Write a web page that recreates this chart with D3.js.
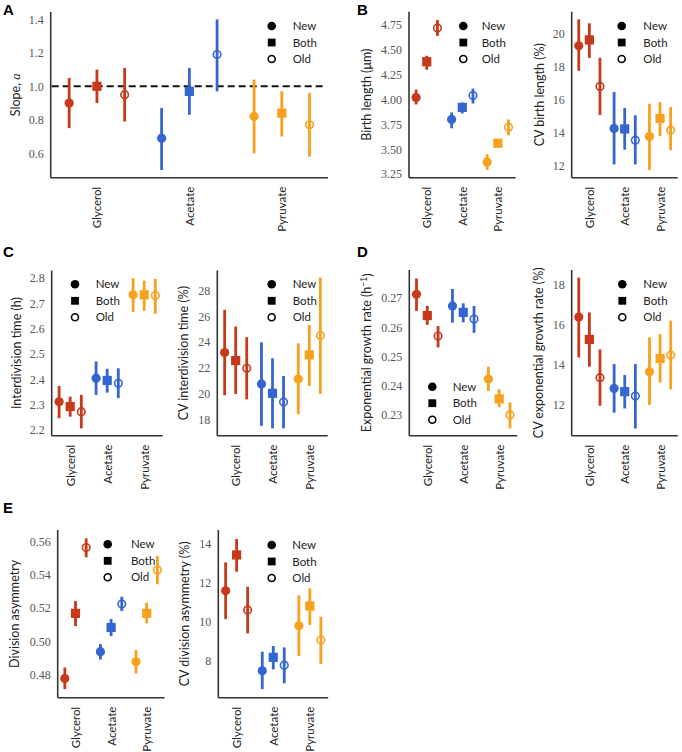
<!DOCTYPE html>
<html><head><meta charset="utf-8">
<script src="https://cdn.jsdelivr.net/npm/d3@7"></script>
<style>body{margin:0;background:#fff}svg{display:block}</style>
</head><body>
<script>
// ---------- DATA ----------
const categories = ["Glycerol", "Acetate", "Pyruvate"];
const groups = ["New", "Both", "Old"];
const colors = ["#c8391a", "#3366d0", "#f7a11e"];

// values [category][group], group order New, Both, Old
const slopeMean = [[0.90, 1.00, 0.95], [0.69, 0.97, 1.19], [0.82, 0.84, 0.77]];
const slopeLo   = [[0.75, 0.90, 0.79], [0.50, 0.83, 0.97], [0.60, 0.70, 0.58]];
const slopeHi   = [[1.05, 1.10, 1.11], [0.87, 1.11, 1.40], [1.04, 0.97, 0.96]];
const slopeTicks = [0.6, 0.8, 1.0, 1.2, 1.4];

const birthMean = [[4.02, 4.38, 4.72], [3.80, 3.92, 4.04], [3.37, 3.56, 3.72]];
const birthLo   = [[3.95, 4.30, 4.64], [3.71, 3.86, 3.96], [3.29, 3.535, 3.64]];
const birthHi   = [[4.10, 4.44, 4.80], [3.87, 3.97, 4.11], [3.45, 3.585, 3.80]];
const birthTicks = [3.25, 3.50, 3.75, 4.00, 4.25, 4.50, 4.75];

const cvBirthMean = [[19.25, 19.6, 16.8], [14.27, 14.24, 13.56], [13.78, 14.87, 14.16]];
const cvBirthLo   = [[17.74, 18.52, 15.08], [12.1, 12.99, 12.1], [11.76, 13.8, 12.96]];
const cvBirthHi   = [[20.84, 20.6, 18.52], [16.46, 15.5, 15.06], [15.76, 15.86, 15.56]];
const cvBirthTicks = [12, 14, 16, 18, 20];

const divTimeMean = [[2.312, 2.293, 2.273], [2.405, 2.396, 2.385], [2.734, 2.734, 2.731]];
const divTimeLo   = [[2.247, 2.253, 2.207], [2.339, 2.348, 2.326], [2.666, 2.671, 2.659]];
const divTimeHi   = [[2.374, 2.332, 2.339], [2.471, 2.442, 2.444], [2.800, 2.790, 2.797]];
const divTimeTicks = [2.2, 2.3, 2.4, 2.5, 2.6, 2.7, 2.8];

const cvDivTimeMean = [[23.18, 22.56, 21.96], [20.75, 20.02, 19.35], [21.13, 23.0, 24.5]];
const cvDivTimeLo   = [[19.87, 19.97, 19.55], [17.5, 17.3, 17.3], [18.39, 20.59, 19.97]];
const cvDivTimeHi   = [[26.5, 25.2, 24.37], [23.98, 22.74, 21.37], [23.9, 25.33, 29.0]];
const cvDivTimeTicks = [18, 20, 22, 24, 26, 28];

const growthMean = [[0.2713, 0.2640, 0.2570], [0.2673, 0.2651, 0.2628], [0.2423, 0.2355, 0.2300]];
const growthLo   = [[0.2656, 0.2608, 0.2531], [0.2616, 0.2617, 0.2581], [0.2382, 0.2326, 0.2254]];
const growthHi   = [[0.2767, 0.2673, 0.2604], [0.2731, 0.2682, 0.2673], [0.2465, 0.2388, 0.2343]];
const growthTicks = [0.23, 0.24, 0.25, 0.26, 0.27];

const cvGrowthMean = [[16.4, 15.28, 13.37], [12.83, 12.67, 12.45], [13.67, 14.33, 14.5]];
const cvGrowthLo   = [[14.38, 13.92, 11.97], [11.62, 11.83, 10.83], [12.0, 13.12, 12.78]];
const cvGrowthHi   = [[18.37, 16.63, 14.78], [14.05, 13.5, 14.05], [15.38, 15.55, 16.22]];
const cvGrowthTicks = [12, 14, 16, 18];

const asymMean = [[0.4776, 0.5168, 0.5564], [0.4937, 0.5083, 0.5224], [0.4876, 0.5168, 0.5429]];
const asymLo   = [[0.4712, 0.5091, 0.5506], [0.4890, 0.5031, 0.5182], [0.4806, 0.5108, 0.5343]];
const asymHi   = [[0.4842, 0.5242, 0.5620], [0.4983, 0.5134, 0.5268], [0.4947, 0.5232, 0.5514]];
const asymTicks = [0.48, 0.50, 0.52, 0.54, 0.56];

const cvAsymMean = [[11.6, 13.44, 10.62], [7.5, 8.19, 7.79], [9.81, 10.82, 9.08]];
const cvAsymLo   = [[10.15, 12.58, 9.42], [6.56, 7.57, 6.86], [8.26, 9.85, 7.85]];
const cvAsymHi   = [[13.06, 14.26, 11.81], [8.48, 8.77, 8.70], [11.37, 11.73, 10.27]];
const cvAsymTicks = [8, 10, 12, 14];

// ---------- LAYOUT ----------
const W = 682, H = 752;
const svg = d3.select("body").append("svg").attr("width", W).attr("height", H);

const panels = [
  {mean: slopeMean, lo: slopeLo, hi: slopeHi, ticks: slopeTicks, fmt: ".1f",
   x: [50.7, 328], y: [177.7, 12], dom: [0.454, 1.444], label: "slope", lx: 16,
   leg: [271.7, 292.7, 26], refLine: 1.0},
  {mean: birthMean, lo: birthLo, hi: birthHi, ticks: birthTicks, fmt: ".2f",
   x: [409, 515.6], y: [177.7, 11.7], dom: [3.213, 4.884], label: "Birth length (μm)", lx: 367,
   leg: [463.3, 481.7, 26]},
  {mean: cvBirthMean, lo: cvBirthLo, hi: cvBirthHi, ticks: cvBirthTicks, fmt: "d",
   x: [571.7, 677.7], y: [177.7, 11.7], dom: [11.3, 21.3], label: "CV birth length (%)", lx: 540,
   leg: [621.7, 643.3, 26]},
  {mean: divTimeMean, lo: divTimeLo, hi: divTimeHi, ticks: divTimeTicks, fmt: ".1f",
   x: [51.7, 162.7], y: [435.7, 270.5], dom: [2.178, 2.83], label: "Interdivision time (h)", lx: 17,
   leg: [75, 95.7, 284.3]},
  {mean: cvDivTimeMean, lo: cvDivTimeLo, hi: cvDivTimeHi, ticks: cvDivTimeTicks, fmt: "d",
   x: [217.3, 327.7], y: [435.7, 270.5], dom: [16.73, 29.55], label: "CV interdivision time (%)", lx: 184,
   leg: [271.7, 292.7, 284.3]},
  {mean: growthMean, lo: growthLo, hi: growthHi, ticks: growthTicks, fmt: ".2f",
   x: [409.3, 517.2], y: [435.7, 270], dom: [0.2229, 0.2796], label: "growth", lx: 367,
   leg: [432.3, 452.7, 386.7]},
  {mean: cvGrowthMean, lo: cvGrowthLo, hi: cvGrowthHi, ticks: cvGrowthTicks, fmt: "d",
   x: [571.7, 677.8], y: [435.7, 270], dom: [10.47, 18.75], label: "CV exponential growth rate (%)", lx: 539,
   leg: [622.3, 643.3, 284.3]},
  {mean: asymMean, lo: asymLo, hi: asymHi, ticks: asymTicks, fmt: ".2f",
   x: [57.7, 164.5], y: [697.7, 530], dom: [0.466, 0.567], label: "Division asymmetry", lx: 15,
   leg: [107.7, 131, 544.3]},
  {mean: cvAsymMean, lo: cvAsymLo, hi: cvAsymHi, ticks: cvAsymTicks, fmt: "d",
   x: [218.3, 328.2], y: [697.7, 530], dom: [6.12, 14.72], label: "CV division asymmetry (%)", lx: 185,
   leg: [271.7, 292.3, 545]}
];

const letters = [["A", 3, 15], ["B", 357, 15], ["C", 3, 257], ["D", 357, 257], ["E", 3, 513]];
const sans = "Lato, 'Open Sans', sans-serif";
const serif = "'Liberation Serif', 'DejaVu Serif', serif";
const offsets = [-0.3, 0, 0.3];

function drawMarker(g, shape, cx, cy, col, r) {
  if (shape === 0) {
    g.append("circle").attr("cx", cx).attr("cy", cy).attr("r", r).attr("fill", col);
  } else if (shape === 1) {
    const s = r * 2;
    g.append("rect").attr("x", cx - s / 2).attr("y", cy - s / 2).attr("width", s).attr("height", s).attr("fill", col);
  } else {
    g.append("circle").attr("cx", cx).attr("cy", cy).attr("r", r - 0.8).attr("fill", "none")
      .attr("stroke", col).attr("stroke-width", 1.6);
  }
}

panels.forEach(p => {
  const g = svg.append("g");
  const x = d3.scaleLinear().domain([-0.5, 2.5]).range(p.x);
  const y = d3.scaleLinear().domain(p.dom).range(p.y);

  // tick labels
  const yAxis = d3.axisLeft(y).tickValues(p.ticks).tickSize(0).tickPadding(7).tickFormat(d3.format(p.fmt));
  const ya = g.append("g").attr("transform", `translate(${p.x[0]},0)`).call(yAxis);
  ya.select(".domain").remove();
  ya.selectAll("text").attr("font-family", serif).attr("font-size", 12).attr("fill", "#555");

  const xAxis = d3.axisBottom(x).tickValues([0, 1, 2]).tickSize(0).tickFormat(i => categories[i]);
  const xa = g.append("g").attr("transform", `translate(0,${p.y[0]})`).call(xAxis);
  xa.select(".domain").remove();
  xa.selectAll("text").attr("font-family", sans).attr("font-size", 11.5).attr("fill", "#222")
    .attr("text-anchor", "end").attr("transform", "rotate(-90)")
    .attr("x", -9).attr("y", 0).attr("dy", "0.35em");

  // spines
  g.append("line").attr("x1", p.x[0]).attr("x2", p.x[0]).attr("y1", p.y[0]).attr("y2", p.y[1])
    .attr("stroke", "#333").attr("stroke-width", 1.6);
  g.append("line").attr("x1", p.x[0]).attr("x2", p.x[1]).attr("y1", p.y[0]).attr("y2", p.y[0])
    .attr("stroke", "#333").attr("stroke-width", 1.6);

  if (p.refLine !== undefined) {
    g.append("line").attr("x1", p.x[0] + 1).attr("x2", p.x[1] - 3).attr("y1", y(p.refLine)).attr("y2", y(p.refLine))
      .attr("stroke", "#111").attr("stroke-width", 2).attr("stroke-dasharray", "7,4");
  }

  // y label
  const yl = g.append("text").attr("transform", `translate(${p.lx},${(p.y[0] + p.y[1]) / 2}) rotate(-90)`)
    .attr("text-anchor", "middle").attr("dy", "0.35em")
    .attr("font-family", sans).attr("font-size", 12.5).attr("fill", "#222");
  if (p.label === "slope") {
    yl.append("tspan").text("Slope, ");
    yl.append("tspan").attr("font-family", serif).attr("font-style", "italic").text("a");
  } else if (p.label === "growth") {
    yl.append("tspan").text("Exponential growth rate (h");
    yl.append("tspan").attr("font-size", 8.5).attr("dy", "-0.5em").text("−1");
    yl.append("tspan").attr("dy", "0.35em").text(")");
  } else {
    yl.text(p.label);
  }

  // data
  categories.forEach((c, ci) => {
    groups.forEach((gname, gi) => {
      const cx = x(ci + offsets[gi]);
      g.append("line").attr("x1", cx).attr("x2", cx)
        .attr("y1", y(p.lo[ci][gi])).attr("y2", y(p.hi[ci][gi]))
        .attr("stroke", colors[ci]).attr("stroke-width", 2.8);
      drawMarker(g, gi, cx, y(p.mean[ci][gi]), colors[ci], 4.6);
    });
  });

  // legend
  groups.forEach((gname, gi) => {
    const yy = p.leg[2] + gi * 16.5;
    drawMarker(g, gi, p.leg[0], yy, "#000", gi === 1 ? 3.9 : 4.3);
    g.append("text").attr("x", p.leg[1]).attr("y", yy).attr("dy", "0.35em")
      .attr("font-family", sans).attr("font-size", 11.5).attr("fill", "#222").text(gname);
  });
});

letters.forEach(([t, lx, ly]) => {
  svg.append("text").attr("x", lx).attr("y", ly).attr("font-family", "'Liberation Sans', Arial, sans-serif")
    .attr("font-weight", "bold").attr("font-size", 15).attr("fill", "#000").text(t);
});
</script>
</body></html>
